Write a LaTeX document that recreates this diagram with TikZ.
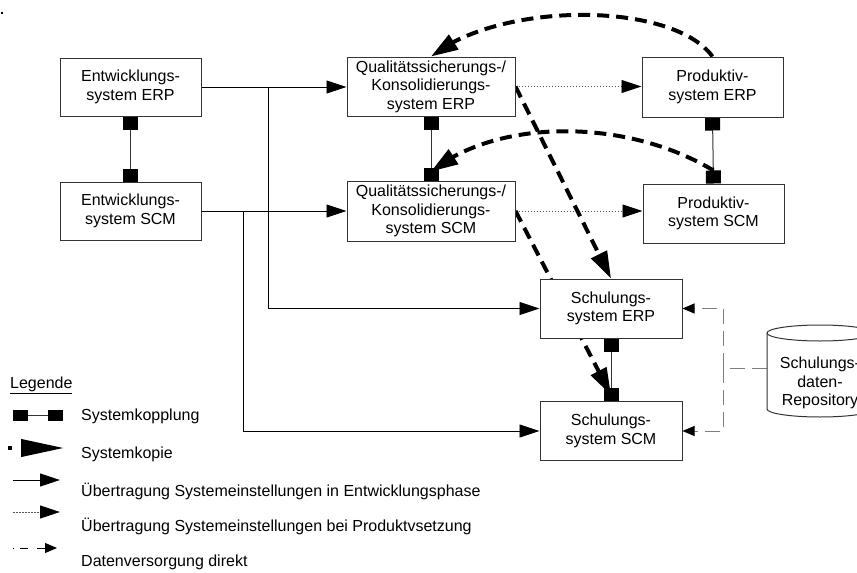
\documentclass[tikz,border=0pt]{standalone}
\usepackage{fontspec}
\setmainfont{Liberation Sans}
\usetikzlibrary{arrows.meta,bending,backgrounds}
\definecolor{edge}{HTML}{333333}
\definecolor{feedgray}{HTML}{7F7F7F}
\definecolor{dotgray}{HTML}{555555}
\begin{document}
\begin{tikzpicture}[x=1pt,y=-1pt,
  every node/.style={font=\fontsize{16}{18.5}\selectfont},
  box/.style={draw=edge, line width=1pt, fill=white, align=center, inner sep=0pt},
  kopplung/.style={draw=edge, line width=1pt,
    {Square[length=13pt,width=15pt,color=black]}-{Square[length=13pt,width=15pt,color=black]}},
  flow/.style={draw=black, line width=0.9pt, -{Triangle[length=20pt,width=13pt]}},
  prodflow/.style={draw=dotgray, line width=0.9pt, dash pattern=on 1.5pt off 1.5pt,
    -{Triangle[length=20pt,width=13pt,color=black]}},
  copyarrow/.style={draw=black, line width=4pt, dash pattern=on 12pt off 7pt,
    -{Triangle[length=27pt,width=17pt]}},
  feedline/.style={draw=feedgray, line width=1pt, dash pattern=on 15pt off 7pt},
  feed/.style={feedline, -{Triangle[length=12pt,width=10pt,color=black]}},
  legendtext/.style={anchor=west, inner sep=0pt}
]
\useasboundingbox (0,0) rectangle (857,573);

% small mark in the upper left corner
\fill (1,12) rectangle (3,14);

% systems
\node[box, minimum width=141pt, minimum height=58pt] (ew1) at (130.5,87) {Entwicklungs-\\system ERP};
\node[box, minimum width=141pt, minimum height=58pt] (ew2) at (130.5,211) {Entwicklungs-\\system SCM};
\node[box, minimum width=168pt, minimum height=59pt] (qs1) at (431,86.5) {Qualitätssicherungs-/\\Konsolidierungs-\\system ERP};
\node[box, minimum width=168pt, minimum height=60pt] (qs2) at (431,211) {Qualitätssicherungs-/\\Konsolidierungs-\\system SCM};
\node[box, minimum width=141pt, minimum height=60pt] (pr1) at (712.5,87) {Produktiv-\\system ERP};
\node[box, minimum width=141pt, minimum height=59pt] (pr2) at (713.5,213.5) {Produktiv-\\system SCM};
\node[box, minimum width=142pt, minimum height=59pt] (sc1) at (611,308.5) {Schulungs-\\system ERP};
\node[box, minimum width=142pt, minimum height=59pt] (sc2) at (611,431) {Schulungs-\\system SCM};

% training data repository (cylinder)
\draw[draw=edge, line width=1pt, fill=white]
  (767,333) -- (767,409) arc[start angle=180, end angle=0, x radius=53, y radius=8]
  -- (873,333) arc[start angle=0, end angle=-180, x radius=53, y radius=8] -- cycle;
\draw[draw=edge, line width=1pt] (767,333) arc[start angle=180, end angle=0, x radius=53, y radius=8];
\node[align=center, inner sep=0pt] (repo) at (820,383) {Schulungs-\\daten-\\Repository};
\coordinate (repoL) at (767,368);

% junctions
\coordinate (j1) at (268,87);
\coordinate (j2) at (243,211);
\coordinate (fd) at (723,368);

\begin{pgfonlayer}{background}
  % settings transfer during development
  \draw[flow] (ew1.east) -- (ew1.east -| qs1.west);
  \draw[flow] (ew2.east) -- (ew2.east -| qs2.west);
  \draw[flow] (j1) |- (sc1.west);
  \draw[flow] (j2) |- (sc2.west);
  % settings transfer at go-live
  \draw[prodflow] (qs1.east) -- (qs1.east -| pr1.west);
  \draw[prodflow] (qs2.east) -- (qs2.east -| pr2.west);
  % system couplings
  \draw[kopplung] (ew1.south) -- (ew2.north);
  \draw[kopplung] (qs1.south) -- (qs2.north);
  \draw[kopplung] (pr1.south) -- (pr2.north);
  \draw[kopplung] (sc1.south) -- (sc2.north);
  % system copies
  \draw[copyarrow] (pr1.north) .. controls (672,1) and (500,1) .. (qs1.north);
  \draw[copyarrow] ([yshift=13pt]pr2.north) .. controls (626,118) and (498,118) .. ([yshift=9pt]qs2.north);
  \draw[copyarrow] (qs1.east) -- (sc1.north);
  \draw[copyarrow] (qs2.east) -- ([yshift=6pt]sc2.north);
  % direct data supply
  \draw[feedline] (repoL) -- (fd);
  \draw[feed] (fd) |- (sc1.east);
  \draw[feed] (fd) |- (sc2.east);
\end{pgfonlayer}

% legend
\node[anchor=base west, inner sep=0pt] (lg) at (10,388) {\underline{Legende}};

\coordinate (la1) at (13,415);  \coordinate (lb1) at (63,415);
\draw[draw=edge, line width=1pt,
  {Square[length=15pt,width=11pt,color=black]}-{Square[length=15pt,width=11pt,color=black]}] (la1) -- (lb1);
\node[legendtext] (lt1) at (81,416) {Systemkopplung};

\coordinate (la2) at (8,448);  \coordinate (lb2) at (64,448);
\draw[draw=black, line width=4pt, dash pattern=on 4pt off 30pt,
  -{Triangle[length=43pt,width=17pt]}] (la2) -- (lb2);
\node[legendtext] (lt2) at (81,454) {Systemkopie};

\coordinate (la3) at (13,480);  \coordinate (lb3) at (60,480);
\draw[flow] (la3) -- (lb3);
\node[legendtext] (lt3) at (81,491) {Übertragung Systemeinstellungen in Entwicklungsphase};

\coordinate (la4) at (13,512);  \coordinate (lb4) at (60,512);
\draw[prodflow] (la4) -- (lb4);
\node[legendtext] (lt4) at (81,526) {Übertragung Systemeinstellungen bei Produktvsetzung};

\coordinate (la5) at (13,548);  \coordinate (lb5) at (57,548);
\draw[draw=black, line width=1pt, dash pattern=on 1pt off 6pt on 8pt off 9pt on 8pt off 30pt,
  -{Triangle[length=12pt,width=10pt]}] (la5) -- (lb5);
\node[legendtext] (lt5) at (81,562) {Datenversorgung direkt};
\end{tikzpicture}
\end{document}
